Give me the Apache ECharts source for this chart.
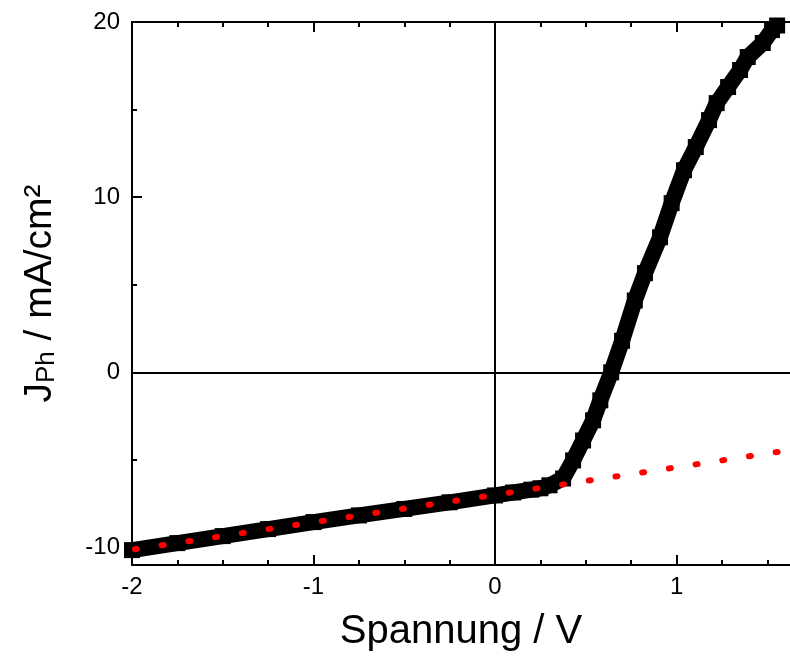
<!DOCTYPE html>
<html>
<head>
<meta charset="utf-8">
<script src="https://cdn.jsdelivr.net/npm/echarts@6/dist/echarts.min.js"></script>
<style>
html,body{margin:0;padding:0;background:#fff;}
#chart{width:790px;height:657px;}
</style>
</head>
<body>
<div id="chart"></div>
<script>
// Measured photocurrent (voltage in V, current density in mA/cm²)
const voltage = [-2.00,-1.75,-1.50,-1.25,-1.00,-0.75,-0.50,-0.25,0.00,0.10,0.20,0.25,0.30,0.375,0.43,0.485,0.54,0.58,0.64,0.70,0.77,0.826,0.909,0.973,1.041,1.106,1.179,1.221,1.284,1.35,1.392,1.475,1.526,1.554];
const current = [-10.15,-9.75,-9.35,-8.95,-8.55,-8.17,-7.80,-7.42,-7.03,-6.86,-6.70,-6.62,-6.45,-6.06,-5.03,-3.89,-2.74,-1.60,0.00,1.80,4.10,5.66,7.71,9.66,11.54,12.86,14.40,15.37,16.29,17.26,18.00,18.80,19.54,19.80];
// Linear fit (red dotted)
const fitX = [-2.0, 1.625];
const fitY = [-10.13, -4.44];
// Axis ticks
const xMajorTicks = [-2, -1, 0, 1];
const xMinorTicks = [-1.75, -1.5, -1.25, -0.75, -0.5, -0.25, 0.25, 0.5, 0.75, 1.25, 1.5];
const yMajorTicks = [-10, 0, 10, 20];
const yMinorTicks = [-5, 5, 15];
const xRange = [-2, 1.625];
const yRange = [-11, 20];

const FONT = '"Liberation Sans", Arial, sans-serif';

function xAx(pos, ticks, len, showLine, labels, extra) {
  return Object.assign({
    type: 'value', position: pos, min: xRange[0], max: xRange[1],
    axisLine: {show: showLine, onZero: false, lineStyle: {color: '#000', width: 2}},
    axisTick: {show: true, inside: true, length: len, customValues: ticks, lineStyle: {color: '#000', width: 2}},
    axisLabel: labels ? {show: true, customValues: ticks, color: '#000', fontSize: 24, fontFamily: FONT, margin: 10} : {show: false},
    splitLine: {show: false}
  }, extra || {});
}
function yAx(pos, ticks, len, showLine, labels, extra) {
  return Object.assign({
    type: 'value', position: pos, min: yRange[0], max: yRange[1],
    axisLine: {show: showLine, onZero: false, lineStyle: {color: '#000', width: 2}},
    axisTick: {show: true, inside: true, length: len, customValues: ticks, lineStyle: {color: '#000', width: 2}},
    axisLabel: labels ? {show: true, customValues: ticks, color: '#000', fontSize: 24, fontFamily: FONT, margin: 12} : {show: false},
    splitLine: {show: false}
  }, extra || {});
}

const chart = echarts.init(document.getElementById('chart'), null, {renderer: 'canvas'});
chart.setOption({
  animation: false,
  backgroundColor: '#fff',
  grid: {left: 132, top: 22, right: 0, bottom: 92, containLabel: false},
  xAxis: [
    xAx('bottom', xMajorTicks, 10, true, true, {
      name: 'Spannung / V', nameLocation: 'middle', nameGap: 47,
      nameTextStyle: {color: '#000', fontSize: 40, fontFamily: FONT}
    }),
    xAx('bottom', xMinorTicks, 5, false, false),
    xAx('top', xMajorTicks, 10, true, false),
    xAx('top', xMinorTicks, 5, false, false)
  ],
  yAxis: [
    yAx('left', yMajorTicks, 10, true, true, {
      name: '{a|J}{s|Ph}{a| / mA/cm²}', nameLocation: 'middle', nameGap: 72, nameRotate: 90,
      nameTextStyle: {
        color: '#000', fontFamily: FONT,
        rich: {
          a: {fontSize: 39, fontFamily: FONT, color: '#000'},
          s: {fontSize: 26, fontFamily: FONT, color: '#000', verticalAlign: 'bottom', padding: [14, 0, 0, 0]}
        }
      }
    }),
    yAx('left', yMinorTicks, 5, false, false)
  ],
  series: [
    {
      type: 'line', data: [], z: 1, silent: true,
      markLine: {
        silent: true, symbol: ['none', 'none'], label: {show: false},
        lineStyle: {color: '#000', width: 2, type: 'solid'},
        data: [{xAxis: 0}, {yAxis: 0}]
      }
    },
    {
      type: 'line', z: 2, clip: true,
      data: voltage.map((v, i) => [v, current[i]]),
      symbol: 'rect', symbolSize: 16, showSymbol: true,
      itemStyle: {color: '#000'},
      lineStyle: {color: '#000', width: 16, join: 'round'},
      smooth: false
    },
    {
      type: 'line', z: 3, clip: true,
      data: fitX.map((v, i) => [v, fitY[i]]),
      symbol: 'none',
      lineStyle: {color: '#ff0000', width: 6, type: [2, 25], cap: 'round', dashOffset: -3}
    }
  ]
});
</script>
</body>
</html>
